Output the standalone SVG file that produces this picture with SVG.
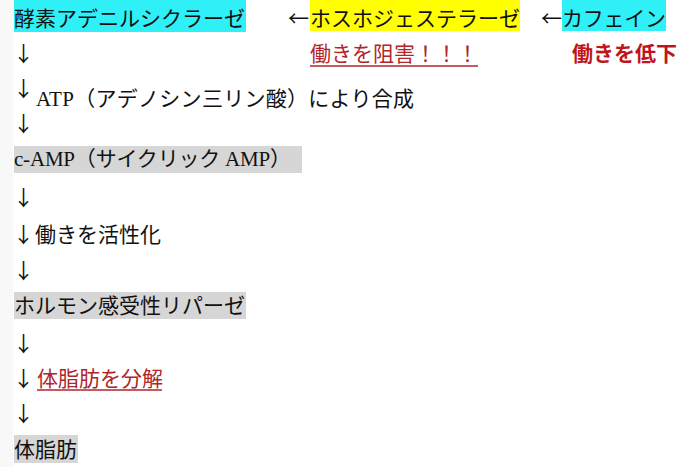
<svg xmlns="http://www.w3.org/2000/svg" width="700" height="467" viewBox="0 0 700 467">
<style>
.t{font-family:"Noto Sans CJK JP","Liberation Sans",sans-serif;font-size:21px;fill:#111}
.l{font-family:"Liberation Serif","Noto Sans CJK JP",serif}
.red{fill:#b0262a}
.redb{fill:#c0141a;font-weight:bold}
.ul{stroke:#b0262a;stroke-width:1.5}
.cy{fill:#2ef0f6}
.ye{fill:#ffff00}
.gr{fill:#d6d6d6}
</style>
<rect x="0" y="0" width="700" height="467" fill="#ffffff"/>
<rect x="0" y="0" width="13" height="467" fill="#f8f8f8"/>
<g id="n-adenylate">
<rect class="cy" x="14" y="0" width="232" height="32"/>
<text class="t" x="14" y="26" textLength="231">酵素アデニルシクラーゼ</text>
</g>
<g id="n-pde">
<rect class="ye" x="310" y="0" width="210" height="31"/>
<text class="t" x="310" y="26" textLength="210">ホスホジェステラーゼ</text>
<text class="t red" x="310" y="61">働きを阻害！！！</text>
<line class="ul" x1="310" y1="66" x2="478" y2="66"/>
</g>
<g id="n-caffeine">
<rect class="cy" x="562" y="0" width="104" height="31"/>
<text class="t" x="562" y="26" textLength="104">カフェイン</text>
<text class="t redb" x="572" y="61">働きを低下</text>
</g>
<g id="n-atp">
<text class="t" x="36" y="106" textLength="378"><tspan class="l">ATP</tspan>（アデノシン三リン酸）により合成</text>
</g>
<g id="n-camp">
<rect class="gr" x="14" y="146" width="288" height="27"/>
<text class="t" x="14" y="166" textLength="277"><tspan class="l">c-AMP</tspan>（サイクリック<tspan class="l"> AMP</tspan>）</text>
</g>
<g id="n-activate">
<text class="t" x="35" y="242">働きを活性化</text>
</g>
<g id="n-hsl">
<rect class="gr" x="14" y="292" width="232" height="27"/>
<text class="t" x="14" y="313" textLength="231">ホルモン感受性リパーゼ</text>
</g>
<g id="n-breakdown">
<text class="t red" x="37" y="386">体脂肪を分解</text>
<line class="ul" x1="37" y1="390" x2="162" y2="390"/>
</g>
<g id="n-fat">
<rect class="gr" x="14" y="435" width="64" height="28"/>
<text class="t" x="14" y="457">体脂肪</text>
</g>
<g id="connectors">
<text class="t" x="288" y="26">←</text>
<text class="t" x="541" y="26">←</text>
<text class="t" x="13" y="61">↓</text>
<text class="t" x="13" y="96">↓</text>
<text class="t" x="13" y="131">↓</text>
<text class="t" x="13" y="205">↓</text>
<text class="t" x="13" y="242">↓</text>
<text class="t" x="13" y="278">↓</text>
<text class="t" x="13" y="351">↓</text>
<text class="t" x="13" y="386">↓</text>
<text class="t" x="13" y="421">↓</text>
</g>
</svg>
